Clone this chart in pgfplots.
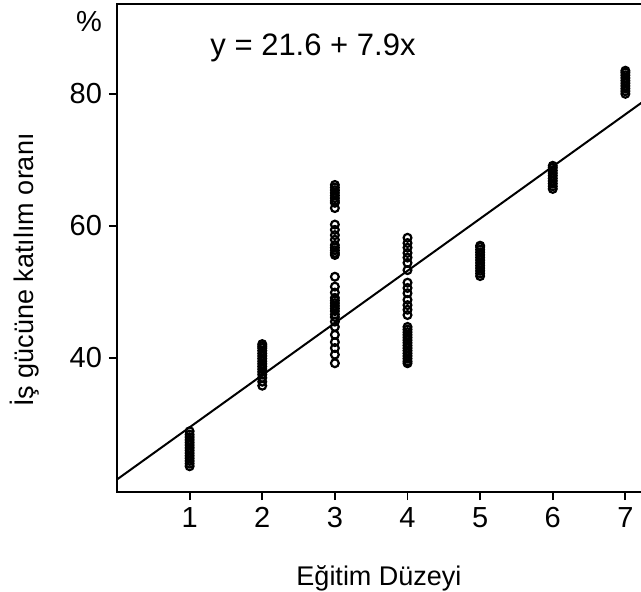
\documentclass[border=0pt]{standalone}
\usepackage{fontspec}
\setmainfont{Liberation Sans}
\usepackage{pgfplots}
\pgfplotsset{compat=1.18}
\begin{document}
\begin{tikzpicture}
\begin{axis}[
  at={(0,0)}, anchor=south west,
  scale only axis,
  width=264pt, height=244pt,
  xmin=0, xmax=7.27,
  ymin=19.7, ymax=93.6,
  xtick={1,2,3,4,5,6,7},
  ytick={40,60,80},
  tick align=outside,
  xtick pos=bottom, ytick pos=left,
  major tick length=4pt,
  axis line style={line width=1.3pt},
  every tick/.style={black, line width=0.9pt},
  tick label style={font=\fontsize{14.5}{16}\selectfont},
  /pgf/number format/assume math mode=true,
  clip=true,
]
% regression line
\addplot[black, line width=1pt] coordinates {(0,21.6) (7.27,79.03)};

\addplot[only marks, mark=o, mark size=1.95pt, mark options={line width=1.1pt, black}] coordinates {
  % level 1
  (1,23.6)(1,24.0)(1,24.4)(1,24.8)(1,25.2)(1,25.6)(1,26.0)(1,26.4)
  (1,26.8)(1,27.2)(1,27.6)(1,28.0)(1,28.4)(1,28.9)
  % level 2
  (2,35.8)(2,36.4)(2,37.0)(2,37.5)(2,37.9)(2,38.3)(2,38.7)(2,39.1)
  (2,39.5)(2,39.9)(2,40.3)(2,40.7)(2,41.1)(2,41.5)(2,41.8)(2,42.1)
  % level 3
  (3,66.2)(3,65.8)(3,65.4)(3,65.0)(3,64.6)(3,64.2)(3,63.8)(3,63.5)
  (3,62.7)(3,60.2)(3,59.4)(3,58.6)(3,57.9)(3,57.1)(3,56.7)(3,56.3)
  (3,55.9)(3,55.6)(3,52.3)(3,50.8)(3,49.9)(3,49.1)(3,48.7)(3,48.3)
  (3,47.9)(3,47.5)(3,47.1)(3,46.6)(3,46.2)(3,45.5)(3,44.7)(3,43.5)
  (3,42.4)(3,41.5)(3,40.5)(3,39.2)
  % level 4
  (4,58.2)(4,57.4)(4,56.7)(4,55.9)(4,55.2)(4,54.4)(4,53.3)(4,51.4)
  (4,50.6)(4,49.8)(4,48.8)(4,48.0)(4,47.3)(4,46.5)(4,44.7)(4,44.3)
  (4,43.9)(4,43.5)(4,43.1)(4,42.7)(4,42.3)(4,41.9)(4,41.5)(4,41.1)
  (4,40.7)(4,40.3)(4,39.9)(4,39.5)(4,39.2)
  % level 5
  (5,52.4)(5,52.8)(5,53.2)(5,53.6)(5,54.0)(5,54.4)(5,54.8)(5,55.2)
  (5,55.6)(5,56.0)(5,56.4)(5,56.8)(5,57.0)
  % level 6
  (6,65.6)(6,66.0)(6,66.4)(6,66.8)(6,67.2)(6,67.6)(6,68.0)(6,68.4)
  (6,68.8)(6,69.1)
  % level 7
  (7,80.0)(7,80.4)(7,80.8)(7,81.2)(7,81.6)(7,82.0)(7,82.4)(7,82.8)
  (7,83.2)(7,83.5)
};
\end{axis}
% labels (axis box: 0..264pt x 0..244pt)
\node[font=\fontsize{15.5}{17}\selectfont] at (98pt,222pt) {y = 21.6 + 7.9x};
\node[font=\fontsize{14.5}{16}\selectfont] at (-14pt,235pt) {\%};
\node[font=\fontsize{13.5}{15}\selectfont] at (131pt,-43pt) {Eğitim Düzeyi};
\node[font=\fontsize{13.5}{15}\selectfont, rotate=90] at (-46pt,111pt) {İş gücüne katılım oranı};
\pgfresetboundingbox
\path (-58.5pt,-49.5pt) rectangle (262pt,246pt);
\end{tikzpicture}
\end{document}
